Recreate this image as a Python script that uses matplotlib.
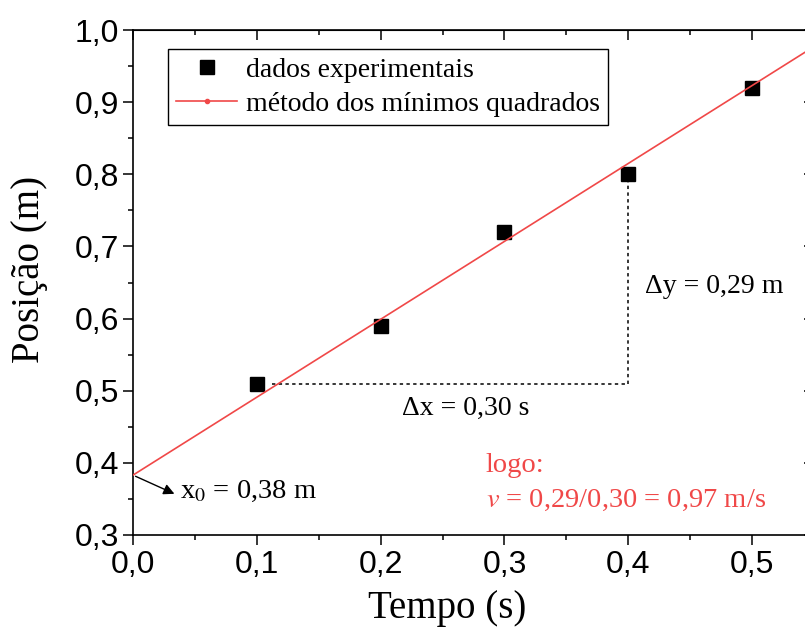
import numpy as np
import matplotlib
matplotlib.use('Agg')
import matplotlib.pyplot as plt
from matplotlib.lines import Line2D

# data
tempo = [0.1, 0.2, 0.3, 0.4, 0.5]
posicao = [0.51, 0.59, 0.72, 0.80, 0.92]

# least squares line (endpoints)
fit_x = [0.0, 0.55]
fit_y = [0.383, 0.977]

# construction lines for delta x / delta y
dx_x = [0.112, 0.4]
dx_y = [0.51, 0.51]
dy_x = [0.4, 0.4]
dy_y = [0.51, 0.80]

xticks = [0.0, 0.1, 0.2, 0.3, 0.4, 0.5]
yticks = [0.3, 0.4, 0.5, 0.6, 0.7, 0.8, 0.9, 1.0]

red = '#f04848'
serif = 'Liberation Serif'
sans = 'Liberation Sans'
plt.rcParams['mathtext.fontset'] = 'stix'

fig = plt.figure(figsize=(8.05, 6.32), dpi=100)
ax = fig.add_axes([133 / 805, 97 / 632, 681 / 805, 505 / 632])

ax.plot(tempo, posicao, 's', color='black', markersize=10, zorder=3)
ax.plot(fit_x, fit_y, '-', color=red, lw=1.2, zorder=4)
ax.plot(dx_x, dx_y, color='black', lw=1.1, linestyle=(0, (2.2, 2.2)), zorder=2)
ax.plot(dy_x, dy_y, color='black', lw=1.1, linestyle=(0, (2.2, 2.2)), zorder=2)

ax.set_xlim(0, 0.55)
ax.set_ylim(0.3, 1.0)
ax.set_xticks(xticks)
ax.set_yticks(yticks)
ax.set_xticklabels([f'{v:.1f}'.replace('.', ',') for v in xticks])
ax.set_yticklabels([f'{v:.1f}'.replace('.', ',') for v in yticks])
ax.set_xticks(np.arange(0.05, 0.55, 0.1), minor=True)
ax.set_yticks(np.arange(0.35, 1.0, 0.1), minor=True)
ax.tick_params(which='major', direction='out', length=7, width=1.1, labelsize=23)
ax.tick_params(which='minor', direction='out', length=3.5, width=1.1)
ax.tick_params(axis='y', pad=3)
for lab in ax.get_xticklabels() + ax.get_yticklabels():
    lab.set_family(sans)
for s in ax.spines.values():
    s.set_linewidth(1.2)

# mirrored ticks pointing inwards on top and right
top = ax.secondary_xaxis('top')
right = ax.secondary_yaxis('right')
for sec in (top, right):
    sec.tick_params(which='major', direction='in', length=7, width=1.1,
                    labeltop=False, labelright=False)
    sec.tick_params(which='minor', direction='in', length=3.5, width=1.1)
top.set_xticks(xticks)
top.set_xticks(np.arange(0.05, 0.55, 0.1), minor=True)
top.set_xticklabels([])
right.set_yticks(yticks)
right.set_yticks(np.arange(0.35, 1.0, 0.1), minor=True)
right.set_yticklabels([])

ax.set_xlabel('Tempo (s)', fontsize=28, family=serif)
ax.set_ylabel('Posição (m)', fontsize=28, family=serif)
ax.xaxis.set_label_coords(0.461, -0.108)
ax.yaxis.set_label_coords(-0.125, 0.525)

# annotations
ax.annotate('', xy=(0.0355, 0.3555), xytext=(0.0, 0.383),
            arrowprops=dict(arrowstyle='-|>', color='black', lw=1, mutation_scale=16))
ax.text(0.038, 0.36, r'x$_0$ = 0,38 m', fontsize=20.5, family=serif, va='center')
ax.text(0.217, 0.476, 'Δx = 0,30 s', fontsize=20, family=serif, va='center')
ax.text(0.4136, 0.645, 'Δy = 0,29 m', fontsize=20, family=serif, va='center')
ax.text(0.285, 0.397, 'logo:', fontsize=20.5, family=serif, va='center', color=red)
ax.text(0.285, 0.3485, r'$v$ = 0,29/0,30 = 0,97 m/s', fontsize=20.5, family=serif,
        va='center', color=red)

handles = [Line2D([], [], marker='s', color='black', linestyle='none', markersize=10),
           Line2D([], [], marker='o', color=red, lw=1.2, markersize=3)]
leg = ax.legend(handles, ['dados experimentais', 'método dos mínimos quadrados'],
                loc='upper left', bbox_to_anchor=(0.051, 0.962), numpoints=1,
                prop={'family': serif, 'size': 20}, frameon=True, fancybox=False,
                edgecolor='black', framealpha=1, handlelength=2.2, handletextpad=0.3,
                labelspacing=0.3, borderpad=0.3, borderaxespad=0)
leg.get_frame().set_linewidth(1)

fig.savefig('out.png', dpi=100)
